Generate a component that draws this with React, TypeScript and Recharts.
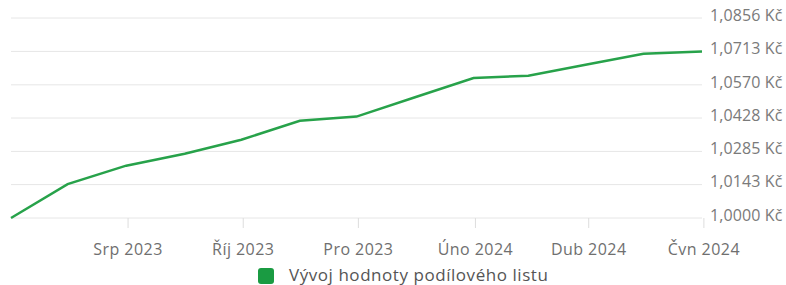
import React from 'react';
import { LineChart, Line, XAxis, YAxis, CartesianGrid, Legend } from 'recharts';

const dates = [
  '2023-05-31', '2023-06-30', '2023-07-31', '2023-08-31', '2023-09-30', '2023-10-31',
  '2023-11-30', '2023-12-31', '2024-01-31', '2024-02-29', '2024-03-31', '2024-04-30', '2024-05-31',
];
const values = [
  1.0, 1.0145, 1.0224, 1.0275, 1.0335, 1.0416,
  1.0434, 1.0517, 1.0599, 1.0609, 1.0657, 1.0703, 1.0713,
];
const xTickDates = ['2023-08-01', '2023-10-01', '2023-12-01', '2024-02-01', '2024-04-01', '2024-06-01'];
const xTickLabels = ['Srp 2023', 'Říj 2023', 'Pro 2023', 'Úno 2024', 'Dub 2024', 'Čvn 2024'];
const yTicks = [1.0, 1.0143, 1.0285, 1.0428, 1.057, 1.0713, 1.0856];
const seriesName = 'Vývoj hodnoty podílového listu';

const ts = (d: string) => Date.parse(d + 'T00:00:00Z');
const data = dates.map((d, i) => ({ t: ts(d), v: values[i] }));
const xTicks = xTickDates.map(ts);
const labelFor = (t: number) => {
  const i = xTicks.indexOf(t);
  return i >= 0 ? xTickLabels[i] : '';
};
const fmtY = (v: number) => v.toFixed(4).replace('.', ',') + ' Kč';

const FONT = '"Open Sans", sans-serif';
const LINE_COLOR = '#27a24a';
const LEGEND_COLOR = '#1a9b42';

const LegendContent = () => (
  <div style={{ height: 27, display: 'flex', justifyContent: 'flex-start', paddingLeft: 258, paddingTop: 6, boxSizing: 'border-box' }}>
    <span style={{ width: 16, height: 16, borderRadius: 3, background: LEGEND_COLOR, display: 'inline-block', marginTop: 4, marginRight: 15, flex: '0 0 auto' }} />
    <span style={{ fontFamily: FONT, fontSize: 17, lineHeight: '21px', letterSpacing: '0.55px', color: '#555', whiteSpace: 'nowrap' }}>{seriesName}</span>
  </div>
);

export default function App() {
  return (
    <div style={{ position: 'absolute', left: 0, top: 0, width: 786, height: 285, background: '#fff', overflow: 'hidden' }}>
      <LineChart width={786} height={285} data={data} margin={{ top: 18, right: 0, bottom: 0, left: 11 }}>
        <CartesianGrid vertical={false} stroke="#e6e6e6" strokeWidth={1} />
        <XAxis
          dataKey="t"
          type="number"
          scale="time"
          domain={['dataMin', 'dataMax']}
          ticks={xTicks}
          interval={0}
          tickFormatter={labelFor}
          axisLine={false}
          tickLine={{ stroke: '#dddddd' }}
          tickSize={10}
          tickMargin={16}
          height={40}
          tick={{ fill: '#6f6f6f', fontSize: 16, fontFamily: FONT, style: { letterSpacing: '0.45px' } }}
        />
        <YAxis
          orientation="right"
          domain={[1.0, 1.0856]}
          ticks={yTicks}
          interval={0}
          tickFormatter={fmtY}
          axisLine={false}
          tickLine={false}
          width={84}
          tick={{ fill: '#7a7a7a', fontSize: 16, fontFamily: FONT, dy: -3, style: { letterSpacing: '0.1px' } }}
        />
        <Legend verticalAlign="bottom" height={27} wrapperStyle={{ left: 0, width: 786 }} content={<LegendContent />} />
        <Line
          type="linear"
          dataKey="v"
          name={seriesName}
          stroke={LINE_COLOR}
          strokeWidth={2.5}
          dot={false}
          activeDot={false}
          isAnimationActive={false}
        />
      </LineChart>
    </div>
  );
}
